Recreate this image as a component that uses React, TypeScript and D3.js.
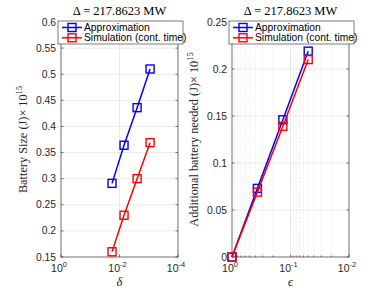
import * as d3 from 'd3';

// values
const deltaVals = [0.018, 0.007, 0.0025, 0.0009];
const battApprox = [0.291, 0.364, 0.436, 0.51];
const battSim = [0.16, 0.23, 0.3, 0.369];

const epsVals = [1, 0.368, 0.135, 0.0498];
const addApprox = [0, 0.073, 0.146, 0.219];
const addSim = [0, 0.069, 0.139, 0.21];

const leftYTicks = [0.15, 0.2, 0.25, 0.3, 0.35, 0.4, 0.45, 0.5, 0.55, 0.6];
const rightYTicks = [0, 0.05, 0.1, 0.15, 0.2, 0.25];
const leftXTicks = [0, -2, -4]; // exponents
const rightXTicks = [0, -1, -2];

const seriesNames = ['Approximation', 'Simulation (cont. time)'];
const titleText = '\u0394 = 217.8623 MW';

const SANS = '"Liberation Sans", Arial, sans-serif';
const SERIF = '"Liberation Serif", "Times New Roman", serif';
const AX = '#262626';
const BLUE = '#0000ff';
const RED = '#ff0000';

type PanelProps = {
  x0: number; x1: number; y0: number; y1: number;
  xDomain: [number, number]; yDomain: [number, number];
  xTicks: number[]; yTicks: number[];
  xs: number[]; s1: number[]; s2: number[];
  minorGrid: boolean;
  yLabel: string; xLabel: string;
};

const Panel = (p: PanelProps) => {
  const x = d3.scaleLog().domain(p.xDomain).range([p.x0, p.x1]);
  const y = d3.scaleLinear().domain(p.yDomain).range([p.y1, p.y0]);
  const line = d3.line<[number, number]>().x(d => x(d[0])).y(d => y(d[1]));
  const pts1 = p.xs.map((v, i) => [v, p.s1[i]] as [number, number]);
  const pts2 = p.xs.map((v, i) => [v, p.s2[i]] as [number, number]);

  // minor log ticks
  const minor: number[] = [];
  if (p.minorGrid) {
    const lo = Math.min(...p.xTicks), hi = Math.max(...p.xTicks);
    for (let e = lo; e < hi; e++) {
      for (let k = 2; k <= 9; k++) minor.push(k * Math.pow(10, e));
    }
  }
  const tl = 2.5;
  const cx = (p.x0 + p.x1) / 2;
  const cy = (p.y0 + p.y1) / 2;
  const m = 4;
  const lx = p.x0 - 3, ly = p.y0 - 1, lw = 125, lh = 23;

  return (
    <g>
      <rect x={p.x0} y={p.y0} width={p.x1 - p.x0} height={p.y1 - p.y0} fill="#fff" />
      {minor.map((v, i) => (
        <line key={'mg' + i} x1={x(v)} x2={x(v)} y1={p.y0} y2={p.y1}
          stroke="#d9d9d9" strokeWidth={0.6} strokeDasharray="1,1.5" />
      ))}
      {p.xTicks.map(e => (
        <line key={'xg' + e} x1={x(Math.pow(10, e))} x2={x(Math.pow(10, e))} y1={p.y0} y2={p.y1}
          stroke="#e3e3e3" strokeWidth={0.7} />
      ))}
      {p.yTicks.map(t => (
        <line key={'yg' + t} x1={p.x0} x2={p.x1} y1={y(t)} y2={y(t)} stroke="#e3e3e3" strokeWidth={0.7} />
      ))}
      {minor.map((v, i) => (
        <g key={'mt' + i}>
          <line x1={x(v)} x2={x(v)} y1={p.y1} y2={p.y1 - 1.5} stroke={AX} strokeWidth={0.6} />
          <line x1={x(v)} x2={x(v)} y1={p.y0} y2={p.y0 + 1.5} stroke={AX} strokeWidth={0.6} />
        </g>
      ))}
      {p.xTicks.map(e => (
        <g key={'xt' + e}>
          <line x1={x(Math.pow(10, e))} x2={x(Math.pow(10, e))} y1={p.y1} y2={p.y1 - tl} stroke={AX} strokeWidth={0.6} />
          <line x1={x(Math.pow(10, e))} x2={x(Math.pow(10, e))} y1={p.y0} y2={p.y0 + tl} stroke={AX} strokeWidth={0.6} />
          <text x={x(Math.pow(10, e)) - 2} y={p.y1 + 15} fontFamily={SANS} fontSize={10.5} fill={AX} textAnchor="middle">
            10<tspan dy={-5} fontSize={7.5}>{e}</tspan>
          </text>
        </g>
      ))}
      {p.yTicks.map(t => (
        <g key={'yt' + t}>
          <line x1={p.x0} x2={p.x0 + tl} y1={y(t)} y2={y(t)} stroke={AX} strokeWidth={0.6} />
          <line x1={p.x1} x2={p.x1 - tl} y1={y(t)} y2={y(t)} stroke={AX} strokeWidth={0.6} />
          <text x={p.x0 - 5} y={y(t) + 3.5} fontFamily={SANS} fontSize={10.3} fill={AX} textAnchor="end">
            {d3.format('~g')(t)}
          </text>
        </g>
      ))}
      <rect x={p.x0} y={p.y0} width={p.x1 - p.x0} height={p.y1 - p.y0} fill="none" stroke={AX} strokeWidth={0.6} />

      <path d={line(pts1) ?? ''} fill="none" stroke={BLUE} strokeWidth={1.5} />
      {pts1.map((d, i) => (
        <rect key={'b' + i} x={x(d[0]) - m} y={y(d[1]) - m} width={2 * m} height={2 * m}
          fill="none" stroke={BLUE} strokeWidth={1.4} />
      ))}
      <path d={line(pts2) ?? ''} fill="none" stroke={RED} strokeWidth={1.5} />
      {pts2.map((d, i) => (
        <rect key={'r' + i} x={x(d[0]) - m} y={y(d[1]) - m} width={2 * m} height={2 * m}
          fill="none" stroke={RED} strokeWidth={1.4} />
      ))}

      <text x={cx} y={15} fontFamily={SERIF} fontSize={12.5} fill="#000" textAnchor="middle">{titleText}</text>
      <text x={cx} y={p.y1 + 29} fontFamily={SERIF} fontSize={12.5} fontStyle="italic" fill={AX} textAnchor="middle">{p.xLabel}</text>
      <text transform={`translate(${p.x0 - 34},${cy}) rotate(-90)`} fontFamily={SERIF} fontSize={12.3} fill={AX} textAnchor="middle">
        {p.yLabel}<tspan dx={3}>10</tspan><tspan dy={-5} fontSize={8.5}>15</tspan>
      </text>

      <rect x={lx} y={ly} width={lw} height={lh} fill="#fff" stroke={AX} strokeWidth={0.6} />
      {seriesNames.map((name, i) => {
        const ry = ly + 6.5 + i * 10.3;
        const c = i === 0 ? BLUE : RED;
        return (
          <g key={name}>
            <line x1={lx + 4} x2={lx + 24} y1={ry} y2={ry} stroke={c} strokeWidth={1.5} />
            <rect x={lx + 14 - m} y={ry - m} width={2 * m} height={2 * m} fill="none" stroke={c} strokeWidth={1.4} />
            <text x={lx + 26} y={ry + 3.6} fontFamily={SANS} fontSize={10.3} fill="#000">{name}</text>
          </g>
        );
      })}
    </g>
  );
};

export default function App() {
  return (
    <svg width={389} height={292} style={{ position: 'absolute', left: 0, top: 0, background: '#fff' }}>
      <rect width={389} height={292} fill="#fff" />
      <Panel x0={61} x1={178} y0={22} y1={257} xDomain={[1, 1e-4]} yDomain={[0.15, 0.6]}
        xTicks={leftXTicks} yTicks={leftYTicks} xs={deltaVals} s1={battApprox} s2={battSim}
        minorGrid={false} yLabel={'Battery Size (J)\u00d7'} xLabel={'\u03b4'} />
      <Panel x0={232} x1={349} y0={22} y1={257} xDomain={[1, 1e-2]} yDomain={[0, 0.25]}
        xTicks={rightXTicks} yTicks={rightYTicks} xs={epsVals} s1={addApprox} s2={addSim}
        minorGrid={true} yLabel={'Additional battery needed (J)\u00d7'} xLabel={'\u03f5'} />
    </svg>
  );
}
